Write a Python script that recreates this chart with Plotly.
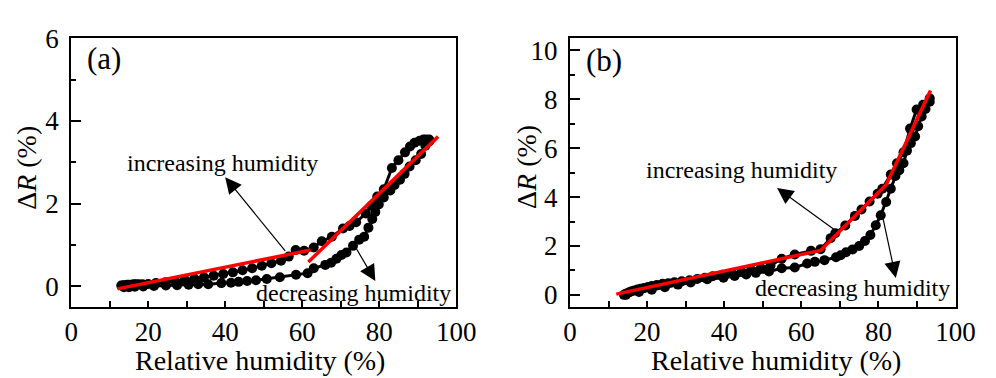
import plotly.graph_objects as go

# ---------------- data: panel (a) ----------------
a_inc_x = [13.0, 13.5, 14.0, 14.5, 15.0, 15.6, 16.2, 16.8, 17.5, 18.5, 20.0, 22.0, 24.5, 27.0, 29.5,
           32.0, 34.5, 37.0, 39.5, 42.0, 44.5, 47.0, 49.5, 52.0, 54.5, 56.5, 58.3, 60.5, 63.0, 65.1,
           67.7, 70.6, 72.3, 74.0, 76.5, 78.0, 79.5, 81.2, 83.3, 85.0, 86.7, 88.0, 89.2, 90.5, 91.5,
           92.2, 93.0]
a_inc_y = [0.02, 0.03, 0.03, 0.04, 0.04, 0.04, 0.05, 0.05, 0.05, 0.05, 0.06, 0.08, 0.10, 0.13, 0.16,
           0.19, 0.22, 0.26, 0.30, 0.34, 0.39, 0.44, 0.50, 0.56, 0.62, 0.72, 0.88, 0.86, 0.94, 1.09,
           1.20, 1.40, 1.46, 1.55, 1.76, 1.95, 2.17, 2.35, 2.86, 3.05, 3.24, 3.38, 3.47, 3.52, 3.55,
           3.55, 3.55]
a_dec_x = [93.0, 92.0, 90.9, 89.5, 87.9, 86.6, 85.4, 84.0, 82.9, 81.2, 79.9, 79.0, 78.2, 77.2, 76.1,
           74.8, 73.2, 71.5, 70.2, 68.9, 67.5, 66.0, 63.0, 61.4, 58.4, 54.2, 50.8, 48.0, 45.7, 43.5,
           41.5, 39.0, 35.6, 33.0, 30.5, 27.5, 24.6, 21.5, 18.7, 16.5, 15.0, 13.7]
a_dec_y = [3.50, 3.40, 3.20, 3.05, 2.90, 2.72, 2.58, 2.45, 2.32, 2.15, 1.98, 1.80, 1.63, 1.42, 1.20,
           1.13, 0.98, 0.82, 0.76, 0.67, 0.57, 0.52, 0.44, 0.32, 0.28, 0.22, 0.18, 0.15, 0.13, 0.11,
           0.09, 0.08, 0.05, 0.05, 0.04, 0.03, 0.02, 0.01, 0.00, -0.01, -0.02, -0.02]
a_fit1_x = [12.0, 62.2]
a_fit1_y = [-0.06, 0.88]
a_fit2_x = [61.6, 95.3]
a_fit2_y = [0.59, 3.62]

# ---------------- data: panel (b) ----------------
b_inc_x = [14.0, 14.5, 15.0, 15.5, 16.0, 16.7, 17.5, 18.3, 19.2, 20.2, 21.2, 22.5, 24.0, 25.5, 27.1,
           29.0, 31.0, 33.0, 35.0, 37.0, 39.5, 42.0, 44.5, 47.0, 49.5, 52.0, 54.9, 58.3, 62.5, 65.0,
           67.6, 68.8, 71.4, 73.9, 75.6, 77.7, 79.8, 81.0, 83.2, 84.8, 86.5, 88.2, 89.9, 91.6, 93.3]
b_inc_y = [0.00, 0.05, 0.08, 0.12, 0.15, 0.18, 0.22, 0.25, 0.28, 0.32, 0.36, 0.40, 0.45, 0.48, 0.52,
           0.56, 0.60, 0.65, 0.70, 0.76, 0.82, 0.88, 0.95, 1.02, 1.10, 1.20, 1.48, 1.65, 1.80, 1.87,
           2.32, 2.52, 2.84, 3.23, 3.49, 3.82, 4.14, 4.34, 4.92, 5.38, 5.83, 6.80, 7.58, 7.78, 8.04]
b_dec_x = [93.3, 92.2, 91.2, 90.3, 89.5, 88.4, 87.4, 86.5, 85.4, 84.4, 83.2, 82.0, 80.6, 79.3, 77.9,
           76.5, 75.0, 73.3, 71.6, 70.2, 69.0, 66.0, 63.5, 61.5, 58.3, 54.9, 51.6, 48.2, 45.7,
           42.7, 39.8, 35.6, 31.3, 28.0, 24.6, 21.2, 17.9, 14.5]
b_dec_y = [7.90, 7.60, 7.30, 6.90, 6.48, 6.20, 5.90, 5.38, 5.10, 4.86, 4.34, 3.80, 3.26, 2.85, 2.45,
           2.20, 2.00, 1.86, 1.74, 1.62, 1.54, 1.42, 1.35, 1.28, 1.12, 1.09, 0.96, 0.90, 0.83,
           0.77, 0.70, 0.64, 0.51, 0.42, 0.31, 0.21, 0.12, 0.00]
b_fit_x = [12.0, 65.0, 82.0, 93.5]
b_fit_y = [0.03, 1.82, 4.50, 8.36]

x_ticks = [0, 20, 40, 60, 80, 100]
a_y_ticks = [0, 2, 4, 6]
b_y_ticks = [0, 2, 4, 6, 8, 10]

FONT = "Liberation Serif"

fig = go.Figure()

def add_panel(xa, ya, inc_x, inc_y, dec_x, dec_y, fits):
    for xs, ys in ((inc_x, inc_y), (dec_x, dec_y)):
        fig.add_trace(go.Scatter(x=xs, y=ys, mode="lines+markers", xaxis=xa, yaxis=ya,
                                 line=dict(color="black", width=3),
                                 marker=dict(color="black", size=10), showlegend=False))
    for fx, fy in fits:
        fig.add_trace(go.Scatter(x=fx, y=fy, mode="lines", xaxis=xa, yaxis=ya,
                                 line=dict(color="#ff0000", width=3.5), showlegend=False))

add_panel("x", "y", a_inc_x, a_inc_y, a_dec_x, a_dec_y,
          [(a_fit1_x, a_fit1_y), (a_fit2_x, a_fit2_y)])
add_panel("x2", "y2", b_inc_x, b_inc_y, b_dec_x, b_dec_y, [(b_fit_x, b_fit_y)])


def axis(**kw):
    d = dict(showline=True, linecolor="black", linewidth=2, mirror=True,
             showgrid=False, zeroline=False, ticks="inside", tickwidth=1.5,
             tickcolor="black", tickfont=dict(family=FONT, size=27, color="black"))
    d.update(kw)
    return d

ydom = [1 - 306.7 / 378, 1 - 24.3 / 378]
fig.update_layout(
    width=996, height=378, margin=dict(l=0, r=0, t=0, b=0),
    paper_bgcolor="white", plot_bgcolor="white",
    font=dict(family=FONT, color="black", size=27),
    xaxis=axis(domain=[66 / 996, 461.7 / 996], range=[0, 100], tickvals=x_ticks, ticklen=6,
               minor=dict(tickvals=[10, 30, 50, 70, 90], ticks="inside", ticklen=6, tickwidth=1.5,
                          tickcolor="black"),
               anchor="y"),
    yaxis=axis(domain=ydom, range=[-0.5, 6], tickvals=a_y_ticks, ticklen=10, ticklabelstandoff=5,
               minor=dict(tickvals=[1, 3, 5], ticks="inside", ticklen=5, tickwidth=1.5,
                          tickcolor="black"),
               anchor="x"),
    xaxis2=axis(domain=[578.7 / 996, 975 / 996], range=[0, 100], tickvals=x_ticks, ticklen=6,
                minor=dict(tickvals=[10, 30, 50, 70, 90], ticks="inside", ticklen=6, tickwidth=1.5,
                           tickcolor="black"),
                anchor="y2"),
    yaxis2=axis(domain=ydom, range=[-0.5, 10.5], tickvals=b_y_ticks, ticklen=10, ticklabelstandoff=5,
                minor=dict(tickvals=[1, 3, 5, 7, 9], ticks="inside", ticklen=5, tickwidth=1.5,
                           tickcolor="black"),
                anchor="x2"),
)

tfont = dict(family=FONT, size=28, color="black")
afont = dict(family=FONT, size=24, color="black")
lfont = dict(family=FONT, size=31, color="black")

ann = []
# axis titles
for xc in (260 / 996, 790 / 996):
    ann.append(dict(text="Relative humidity (%)", xref="paper", yref="paper", x=xc, y=1 - 363 / 378,
                    xanchor="center", yanchor="middle", showarrow=False, font=tfont))
for xc in (20 / 996, 534 / 996):
    ann.append(dict(text="Δ<i>R</i> (%)", xref="paper", yref="paper", x=xc, y=1 - 160 / 378,
                    xanchor="center", yanchor="middle", showarrow=False, textangle=-90, font=tfont))
# panel labels
ann.append(dict(text="(a)", xref="x", yref="y", x=8.5, y=5.5, showarrow=False, font=lfont))
ann.append(dict(text="(b)", xref="x2", yref="y2", x=8.7, y=9.6, showarrow=False, font=lfont))
# text labels
ann.append(dict(text="increasing humidity", xref="x", yref="y", x=39.2, y=2.98, showarrow=False, font=afont))
ann.append(dict(text="decreasing humidity", xref="x", yref="y", x=73.4, y=-0.17, showarrow=False, font=afont))
ann.append(dict(text="increasing humidity", xref="x2", yref="y2", x=44.6, y=5.11, showarrow=False, font=afont))
ann.append(dict(text="decreasing humidity", xref="x2", yref="y2", x=73.2, y=0.3, showarrow=False, font=afont))
# arrows
arrow = dict(text="", showarrow=True, arrowhead=2, arrowsize=2.7, arrowwidth=1.2, arrowcolor="black")
ann.append(dict(xref="x", yref="y", axref="x", ayref="y", x=40.0, y=2.64, ax=55.9, ay=0.82, **arrow))
ann.append(dict(xref="x", yref="y", axref="x", ayref="y", x=79.0, y=0.13, ax=73.9, ay=0.94, **arrow))
ann.append(dict(xref="x2", yref="y2", axref="x2", ayref="y2", x=53.7, y=4.37, ax=68.9, ay=2.63, **arrow))
ann.append(dict(xref="x2", yref="y2", axref="x2", ayref="y2", x=84.5, y=0.69, ax=81.0, ay=3.26, **arrow))
fig.update_layout(annotations=ann)

fig.write_html("out.html")
